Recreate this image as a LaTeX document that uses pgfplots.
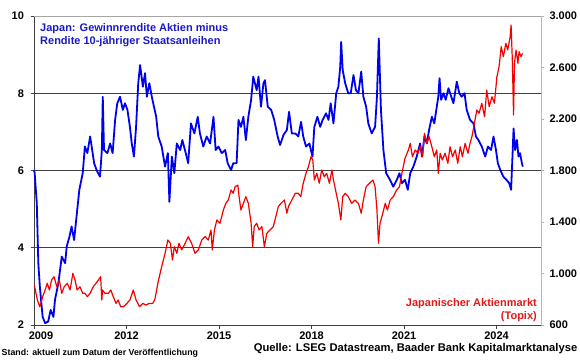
\documentclass[border=0pt]{standalone}
\usepackage{fontspec}
\setmainfont{Liberation Sans}
\usepackage{pgfplots}
\pgfplotsset{compat=1.18}
\definecolor{lineblue}{RGB}{0,0,240}
\definecolor{titleblue}{RGB}{25,25,200}
\definecolor{linered}{RGB}{245,0,0}
\definecolor{labelred}{RGB}{225,25,25}
\newcommand{\tickfont}{\bfseries\fontsize{11}{13}\selectfont}
\begin{document}
\begin{tikzpicture}[x=1pt,y=1pt]
\path[use as bounding box] (0,0) rectangle (580,359);
\begin{axis}[
  at={(34pt,34pt)}, anchor=south west,
  scale only axis, width=507pt, height=309pt,
  xmin=2009, xmax=2025.44, ymin=2, ymax=10,
  xtick={2009,2012,2015,2018,2021,2024},
  xticklabels={\hspace*{14pt}2009,2012,2015,2018,2021,2024},
  ytick={2,4,6,8,10},
  axis x line*=bottom, axis y line*=left,
  axis line style={-, black!75, line width=0.7pt},
  ymajorgrids, grid style={black!75, line width=0.7pt},
  tick align=outside, major tick length=3.5pt,
  tick style={black!75, line width=0.6pt},
  tick label style={font=\tickfont},
  /pgf/number format/assume math mode=true,
  /pgf/number format/1000 sep={},
  yticklabel style={xshift=-3pt},
  clip=false,
]
\draw[gray!70, line width=0.8pt] (rel axis cs:0,1) -- (rel axis cs:1,1);
\addplot[lineblue, line width=1.8pt, line join=round] coordinates {
(2009.00,6.00)(2009.02,5.95)(2009.09,5.16)(2009.14,3.60)(2009.19,2.99)(2009.28,2.21)(2009.36,2.05)(2009.46,2.09)(2009.54,2.39)(2009.63,2.21)(2009.68,2.65)(2009.79,3.08)(2009.90,3.77)(2010.01,3.60)(2010.06,4.03)(2010.15,4.29)(2010.22,4.55)(2010.30,4.20)(2010.39,4.89)(2010.47,5.50)(2010.58,5.93)(2010.65,6.62)(2010.73,6.45)(2010.82,6.88)(2010.87,6.62)(2010.95,6.19)(2011.03,6.01)(2011.14,5.84)(2011.20,6.53)(2011.23,7.91)(2011.27,6.53)(2011.38,6.45)(2011.47,6.70)(2011.55,6.45)(2011.63,7.31)(2011.70,7.74)(2011.79,7.91)(2011.88,7.57)(2011.95,7.74)(2012.03,7.57)(2012.11,7.13)(2012.17,6.70)(2012.24,6.36)(2012.31,7.13)(2012.38,8.26)(2012.44,8.73)(2012.53,8.17)(2012.60,8.52)(2012.66,7.91)(2012.74,8.26)(2012.82,7.91)(2012.89,7.65)(2012.96,7.40)(2013.03,6.88)(2013.14,6.62)(2013.25,6.10)(2013.34,6.45)(2013.39,5.19)(2013.47,6.36)(2013.55,5.93)(2013.63,6.70)(2013.74,6.53)(2013.81,6.79)(2013.92,6.45)(2014.00,6.19)(2014.09,7.22)(2014.20,6.96)(2014.31,7.39)(2014.38,6.96)(2014.49,6.62)(2014.60,6.88)(2014.71,6.70)(2014.82,7.39)(2014.89,6.53)(2014.98,6.62)(2015.09,6.45)(2015.20,6.53)(2015.28,6.19)(2015.39,6.01)(2015.46,6.19)(2015.57,6.19)(2015.63,7.31)(2015.71,7.13)(2015.79,7.39)(2015.87,6.79)(2015.95,7.39)(2016.04,7.83)(2016.11,8.43)(2016.22,8.08)(2016.28,8.43)(2016.36,7.65)(2016.44,8.26)(2016.49,8.34)(2016.58,7.65)(2016.69,7.57)(2016.79,7.31)(2016.90,6.88)(2016.98,6.66)(2017.09,6.92)(2017.20,7.05)(2017.27,7.52)(2017.36,6.96)(2017.47,6.96)(2017.57,6.88)(2017.66,7.26)(2017.73,6.88)(2017.82,6.62)(2017.93,6.70)(2018.03,6.36)(2018.09,7.13)(2018.19,7.39)(2018.28,7.13)(2018.36,7.31)(2018.47,7.48)(2018.55,7.31)(2018.62,7.74)(2018.71,7.22)(2018.80,8.00)(2018.87,8.17)(2018.93,8.69)(2018.96,9.33)(2019.01,8.60)(2019.09,8.26)(2019.19,8.00)(2019.27,8.00)(2019.36,8.47)(2019.44,8.08)(2019.52,8.00)(2019.61,8.56)(2019.68,7.91)(2019.77,7.65)(2019.84,7.22)(2019.95,6.96)(2020.06,7.13)(2020.12,7.91)(2020.18,9.42)(2020.25,7.57)(2020.33,6.53)(2020.42,5.93)(2020.55,5.75)(2020.65,5.58)(2020.76,5.75)(2020.85,5.93)(2020.93,5.67)(2021.03,5.76)(2021.12,5.50)(2021.20,5.93)(2021.30,6.10)(2021.41,6.36)(2021.52,6.70)(2021.58,6.36)(2021.66,6.88)(2021.74,6.70)(2021.81,7.05)(2021.90,7.39)(2021.98,7.22)(2022.06,7.65)(2022.11,7.91)(2022.15,8.39)(2022.20,7.83)(2022.28,8.00)(2022.35,7.83)(2022.44,8.13)(2022.53,7.91)(2022.60,7.74)(2022.71,8.30)(2022.79,8.00)(2022.87,7.91)(2022.96,8.00)(2023.03,7.57)(2023.14,7.31)(2023.25,7.22)(2023.33,6.88)(2023.41,6.79)(2023.52,6.62)(2023.63,6.36)(2023.72,6.62)(2023.82,6.53)(2023.90,6.88)(2023.98,6.53)(2024.04,6.19)(2024.12,6.01)(2024.22,5.84)(2024.33,5.75)(2024.41,5.67)(2024.47,5.50)(2024.51,6.27)(2024.55,7.09)(2024.60,6.53)(2024.66,6.79)(2024.71,6.36)(2024.76,6.45)(2024.82,6.19)(2024.85,6.10)
};
\end{axis}
\begin{axis}[
  at={(34pt,34pt)}, anchor=south west,
  scale only axis, width=507pt, height=309pt,
  xmin=2009, xmax=2025.44, ymin=600, ymax=3000,
  ytick={600,1000,1400,1800,2200,2600,3000},
  axis y line*=right, axis x line=none,
  axis line style={-, gray!55, line width=0.7pt},
  tick align=outside, major tick length=3pt,
  tick style={gray!60, line width=0.6pt},
  tick label style={font=\tickfont},
  /pgf/number format/assume math mode=true,
  /pgf/number format/1000 sep={.},
  yticklabel style={anchor=west, xshift=2pt},
  clip=false,
]
\addplot[linered, line width=1.2pt, line join=round] coordinates {
(2009.00,900)(2009.02,897)(2009.11,794)(2009.19,742)(2009.28,820)(2009.36,872)(2009.43,924)(2009.50,872)(2009.57,950)(2009.65,975)(2009.74,897)(2009.82,950)(2009.90,846)(2009.98,897)(2010.08,924)(2010.17,872)(2010.26,1002)(2010.33,950)(2010.40,872)(2010.49,897)(2010.58,846)(2010.65,846)(2010.73,820)(2010.82,846)(2010.92,897)(2011.01,924)(2011.09,950)(2011.16,975)(2011.20,794)(2011.22,872)(2011.30,846)(2011.41,846)(2011.49,872)(2011.57,820)(2011.66,768)(2011.73,794)(2011.81,742)(2011.90,742)(2012.01,768)(2012.11,794)(2012.22,872)(2012.31,794)(2012.42,742)(2012.53,768)(2012.63,755)(2012.74,768)(2012.85,768)(2012.92,800)(2013.03,940)(2013.14,1053)(2013.25,1157)(2013.34,1260)(2013.42,1235)(2013.49,1105)(2013.55,1208)(2013.63,1157)(2013.70,1235)(2013.79,1183)(2013.90,1235)(2014.00,1286)(2014.11,1235)(2014.22,1157)(2014.33,1183)(2014.44,1260)(2014.55,1286)(2014.65,1260)(2014.74,1338)(2014.78,1183)(2014.85,1338)(2014.93,1416)(2015.03,1390)(2015.14,1493)(2015.22,1545)(2015.30,1571)(2015.39,1649)(2015.46,1623)(2015.52,1674)(2015.61,1687)(2015.65,1597)(2015.71,1493)(2015.79,1545)(2015.87,1597)(2015.95,1545)(2016.04,1390)(2016.09,1208)(2016.14,1364)(2016.22,1390)(2016.30,1338)(2016.39,1364)(2016.47,1208)(2016.55,1312)(2016.65,1338)(2016.76,1364)(2016.84,1441)(2016.92,1519)(2017.01,1545)(2017.12,1571)(2017.20,1468)(2017.25,1519)(2017.36,1571)(2017.47,1623)(2017.57,1623)(2017.65,1597)(2017.73,1701)(2017.82,1778)(2017.90,1830)(2017.98,1907)(2018.04,1882)(2018.09,1726)(2018.17,1778)(2018.25,1701)(2018.33,1804)(2018.41,1752)(2018.49,1778)(2018.58,1701)(2018.66,1804)(2018.71,1726)(2018.80,1623)(2018.87,1545)(2018.95,1416)(2019.01,1597)(2019.09,1623)(2019.19,1597)(2019.30,1545)(2019.41,1571)(2019.52,1545)(2019.61,1468)(2019.68,1571)(2019.77,1674)(2019.88,1701)(2019.99,1726)(2020.06,1674)(2020.12,1493)(2020.17,1235)(2020.22,1390)(2020.31,1468)(2020.39,1545)(2020.46,1493)(2020.55,1571)(2020.65,1597)(2020.76,1649)(2020.85,1674)(2020.93,1778)(2021.03,1895)(2021.14,1959)(2021.20,2011)(2021.27,1907)(2021.36,1959)(2021.45,1934)(2021.52,1985)(2021.60,1907)(2021.66,2089)(2021.74,2011)(2021.81,2063)(2021.90,1985)(2021.98,1907)(2022.06,1959)(2022.11,1778)(2022.17,1934)(2022.24,1882)(2022.33,1934)(2022.42,1856)(2022.49,1985)(2022.57,1907)(2022.66,1959)(2022.74,1856)(2022.82,1985)(2022.89,1907)(2022.98,2011)(2023.07,1934)(2023.14,2011)(2023.20,2063)(2023.28,2166)(2023.36,2270)(2023.43,2244)(2023.52,2322)(2023.61,2218)(2023.68,2425)(2023.76,2296)(2023.85,2373)(2023.93,2322)(2024.01,2529)(2024.08,2606)(2024.15,2762)(2024.22,2684)(2024.30,2788)(2024.36,2736)(2024.44,2839)(2024.47,2930)(2024.51,2658)(2024.55,2231)(2024.58,2633)(2024.63,2736)(2024.69,2633)(2024.73,2723)(2024.79,2684)(2024.84,2710)
};
\end{axis}
\node[anchor=north west, align=left, inner sep=0pt, text=titleblue,
  font=\bfseries\fontsize{11}{13}\selectfont] at (40,335.5)
  {Japan: Gewinnrendite Aktien minus\\Rendite 10-jähriger Staatsanleihen};
\node[anchor=north east, align=right, inner sep=0pt, text=labelred,
  font=\bfseries\fontsize{11}{12.5}\selectfont] at (537,60.5)
  {Japanischer Aktienmarkt\\(Topix)};
\node[anchor=base west, inner sep=0pt, font=\bfseries\fontsize{8.8}{10}\selectfont] at (1.5,4)
  {Stand: aktuell zum Datum der Veröffentlichung};
\node[anchor=base east, inner sep=0pt, font=\bfseries\fontsize{11.2}{13}\selectfont] at (577.5,7.3)
  {Quelle: LSEG Datastream, Baader Bank Kapitalmarktanalyse};
\end{tikzpicture}
\end{document}
